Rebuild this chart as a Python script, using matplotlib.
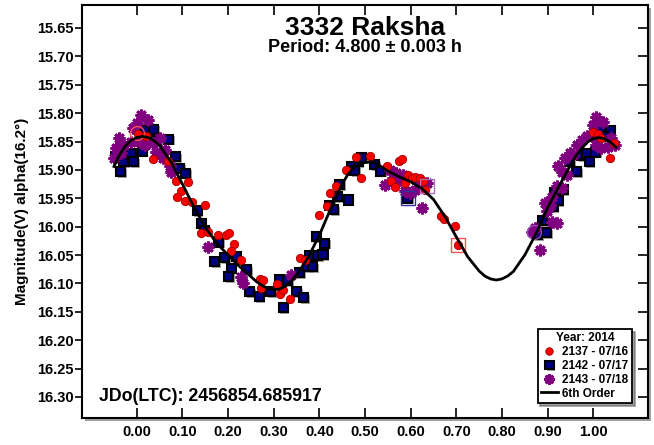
import matplotlib
matplotlib.use("Agg")
import matplotlib.pyplot as plt
import matplotlib.patheffects as pe
from matplotlib.patches import Rectangle

plt.rcParams['font.family'] = ['Liberation Sans', 'DejaVu Sans']
plt.rcParams['font.weight'] = 'bold'

# 2137 - 07/16 (red circles): phase, magnitude
red_phase = [0.002, 0.020, 0.036, 0.068, 0.085, 0.112, 0.097, 0.089, 0.105, 0.120,
             0.149, 0.141, 0.157, 0.178, 0.196, 0.202, 0.214, 0.207, 0.229, 0.269,
             0.276, 0.273, 0.307, 0.313, 0.320, 0.335, 0.357, 0.368, 0.400, 0.416,
             0.423, 0.437, 0.459, 0.481, 0.492, 0.512, 0.548, 0.574, 0.580, 0.558,
             0.566, 0.587, 0.595, 0.603, 0.610, 0.620, 0.627, 0.631, 0.666, 0.673,
             0.697, 0.703, 1.000, 1.011, 1.018, 1.037, 1.045]
red_mag = [15.836, 15.840, 15.880, 15.885, 15.919, 15.922, 15.938, 15.947, 15.955, 15.956,
           15.962, 16.011, 16.010, 16.014, 16.014, 16.012, 16.031, 16.043, 16.058, 16.092,
           16.094, 16.108, 16.101, 16.119, 16.112, 16.128, 16.056, 16.059, 15.979, 15.963,
           15.941, 15.929, 15.901, 15.877, 15.915, 15.875, 15.894, 15.885, 15.881, 15.920,
           15.930, 15.923, 15.909, 15.915, 15.912, 15.915, 15.920, 15.935, 15.981, 15.987,
           15.999, 16.032, 15.833, 15.836, 15.844, 15.879, 15.853]

# 2142 - 07/17 (navy squares)
sq_phase = [-0.047, -0.036, -0.029, -0.012, -0.007, 0.012, 0.017, 0.037, 0.043, 0.070,
            0.085, 0.094, 0.107, 0.132, 0.141, 0.148, 0.179, 0.170, 0.192, 0.218,
            0.207, 0.240, 0.201, 0.247, 0.268, 0.293, 0.312, 0.321, 0.331, 0.350,
            0.365, 0.357, 0.375, 0.386, 0.379, 0.396, 0.408, 0.412, 0.393, 0.423,
            0.432, 0.440, 0.445, 0.463, 0.470, 0.477, 0.485, 0.492, 0.521, 0.535,
            0.594, 0.879, 0.889, 0.898, 0.912, 0.916, 0.923, 0.934, 0.949, 0.963,
            0.975, 0.986, 0.991, 1.005, 1.015, 1.037, 1.022]
sq_mag = [15.877, 15.903, 15.886, 15.872, 15.885, 15.867, 15.830, 15.828, 15.848, 15.846,
          15.877, 15.897, 15.906, 15.972, 15.994, 16.006, 16.027, 16.062, 16.054, 16.053,
          16.073, 16.076, 16.088, 16.115, 16.123, 16.115, 16.093, 16.143, 16.095, 16.114,
          16.125, 16.081, 16.071, 16.070, 16.051, 16.051, 16.049, 16.029, 16.017, 15.962,
          15.970, 15.947, 15.926, 15.953, 15.894, 15.901, 15.885, 15.879, 15.891, 15.902,
          15.950, 16.014, 15.989, 16.011, 15.965, 15.940, 15.954, 15.935, 15.885, 15.903,
          15.875, 15.872, 15.885, 15.869, 15.827, 15.830, 15.841]

# 2143 - 07/18 (purple stars)
st_phase = [0.010, 0.024, 0.000, -0.009, -0.038, -0.045, -0.049, -0.027, -0.034, -0.012,
            0.006, 0.017, 0.035, 0.050, 0.042, 0.061, 0.057, 0.072, 0.075, 0.156,
            0.229, 0.233, 0.337, 0.543, 0.554, 0.561, 0.569, 0.576, 0.584, 0.587,
            0.598, 0.609, 0.616, 0.635, 0.624, 0.883, 0.865, 0.872, 0.909, 0.920,
            0.898, 0.894, 0.909, 0.920, 0.931, 0.923, 0.938, 0.949, 0.956, 0.964,
            0.975, 0.986, 0.997, 1.000, 1.007, 1.022, 1.007, 1.018, 1.033, 1.040,
            1.048, 0.942, 0.931, 0.906]
st_mag = [15.803, 15.812, 15.818, 15.827, 15.844, 15.862, 15.879, 15.856, 15.871, 15.850,
          15.850, 15.856, 15.853, 15.844, 15.868, 15.865, 15.879, 15.894, 15.903, 16.035,
          16.089, 16.099, 16.086, 15.926, 15.900, 15.915, 15.906, 15.917, 15.909, 15.938,
          15.941, 15.935, 15.923, 15.923, 15.967, 16.041, 16.009, 16.003, 15.991, 15.994,
          15.973, 15.959, 15.947, 15.929, 15.903, 15.894, 15.879, 15.871, 15.874, 15.856,
          15.847, 15.841, 15.841, 15.821, 15.806, 15.815, 15.856, 15.862, 15.859, 15.844,
          15.856, 15.909, 15.932, 15.962]

# 6th order fit
fit_phase = [-0.050, -0.0375, -0.025, -0.0125, 0.000, 0.0125, 0.025, 0.0375, 0.050, 0.075,
             0.100, 0.125, 0.150, 0.175, 0.200, 0.225, 0.250, 0.2625, 0.275, 0.2875,
             0.300, 0.3125, 0.325, 0.3375, 0.350, 0.375, 0.400, 0.425, 0.450, 0.4625,
             0.475, 0.4875, 0.500, 0.5125, 0.525, 0.5375, 0.550, 0.575, 0.600, 0.625,
             0.650, 0.675, 0.700, 0.725, 0.750, 0.7625, 0.775, 0.7875, 0.800, 0.8125,
             0.825, 0.850, 0.875, 0.900, 0.925, 0.950, 0.9625, 0.975, 0.9875, 1.000,
             1.0125, 1.025, 1.0375, 1.050]
fit_mag = [15.894, 15.873, 15.858, 15.848, 15.843, 15.841, 15.843, 15.848, 15.857, 15.886,
           15.925, 15.965, 16.001, 16.029, 16.050, 16.070, 16.088, 16.097, 16.104, 16.109,
           16.111, 16.110, 16.105, 16.097, 16.085, 16.055, 16.015, 15.968, 15.925, 15.908,
           15.897, 15.890, 15.887, 15.886, 15.889, 15.895, 15.902, 15.912, 15.921, 15.933,
           15.952, 15.982, 16.018, 16.053, 16.078, 16.087, 16.092, 16.094, 16.092, 16.087,
           16.079, 16.050, 16.012, 15.967, 15.929, 15.892, 15.875, 15.862, 15.851, 15.845,
           15.843, 15.845, 15.851, 15.860]

# highlighted points (hollow markers)
hl_phase = [0.000, 0.594, 0.635, 0.703, 0.870]
hl_mag = [15.835, 15.950, 15.929, 16.032, 16.010]
hl_marker = ['o', 's', 's', 's', 'o']
hl_color = ['#ff5050', '#3030a0', '#b070c0', '#ff5050', '#9050b0']

xticks = [0.0, 0.1, 0.2, 0.3, 0.4, 0.5, 0.6, 0.7, 0.8, 0.9, 1.0]
yticks = [15.65, 15.70, 15.75, 15.80, 15.85, 15.90, 15.95, 16.00, 16.05, 16.10,
          16.15, 16.20, 16.25, 16.30]

fig = plt.figure(figsize=(6.54, 4.45), dpi=100)
ax = fig.add_axes([0.1254, 0.0607, 0.8654, 0.9281])

# drop shadow of the plot box
fig.patches.append(Rectangle((0.1254 + 0.004, 0.0607 - 0.006), 0.8654, 0.9281,
                             transform=fig.transFigure, facecolor='#a0a0a0',
                             edgecolor='none', zorder=-1))

shadow = [pe.SimplePatchShadow(offset=(1.2, -1.2), shadow_rgbFace='#909090', alpha=0.8), pe.Normal()]

ax.plot(sq_phase, sq_mag, 's', ms=6.5, mfc='#000080', mec='black', mew=1.5,
        zorder=2, path_effects=shadow, label='2142 - 07/17')
ax.plot(st_phase, st_mag, ls='none', marker=(8, 2, 0), ms=8.5, mec='#800080', mew=2.0,
        zorder=3, label='2143 - 07/18')
ax.plot(red_phase, red_mag, 'o', ms=6, mfc='#ff0000', mec='#a00000', mew=0.6,
        zorder=4, label='2137 - 07/16')
for p, m, mk, c in zip(hl_phase, hl_mag, hl_marker, hl_color):
    ax.plot(p, m, mk, ms=10, mfc='none', mec=c, mew=1.0, zorder=4)
ax.plot(fit_phase, fit_mag, '-', color='black', lw=2, zorder=5, label='6th Order')

ax.set_xlim(-0.12, 1.12)
ax.set_ylim(16.337, 15.6095)
ax.set_xticks(xticks)
ax.set_xticklabels(['%.2f' % v for v in xticks])
ax.set_yticks(yticks)
ax.set_yticklabels(['%.2f' % v for v in yticks])

ax.tick_params(axis='y', which='both', left=True, right=True, labelsize=10.5, width=1.2)
ax.tick_params(axis='y', which='major', left=True, direction='out', length=5, pad=1)
ax.tick_params(axis='x', labelsize=10.5, top=True, direction='in', length=7, width=1.2, pad=5)
ax.yaxis.set_tick_params(which='major', right=True)
# right ticks point inward
for t in ax.yaxis.get_major_ticks():
    t.tick2line.set_marker(matplotlib.lines.TICKLEFT)
    t.tick2line.set_markersize(7)
for s in ax.spines.values():
    s.set_linewidth(1.5)

ax.set_ylabel('Magnitude(V) alpha(16.2°)', fontsize=11, fontweight='bold', labelpad=6)

ax.text(0.5, 0.944, '3332 Raksha', transform=ax.transAxes, ha='center', va='center',
        fontsize=19, fontweight='bold')
ax.text(0.5, 0.897, 'Period: 4.800 ± 0.003 h', transform=ax.transAxes, ha='center',
        va='center', fontsize=13, fontweight='bold')
ax.text(0.03, 0.053, 'JDo(LTC): 2456854.685917', transform=ax.transAxes, ha='left',
        va='center', fontsize=12.8, fontweight='bold')

h, l = ax.get_legend_handles_labels()
order = [2, 0, 1, 3]
leg = ax.legend([h[i] for i in order], [l[i] for i in order], title='Year: 2014',
                loc='lower right', bbox_to_anchor=(0.972, 0.036), borderaxespad=0,
                fontsize=8.5, title_fontsize=8.5, fancybox=False, shadow=True,
                framealpha=1, edgecolor='black', handlelength=1.4, handletextpad=0.4,
                labelspacing=0.15, borderpad=0.3, markerscale=0.9)
leg.get_frame().set_linewidth(1.3)
leg.get_title().set_fontweight('bold')
for t in leg.get_texts():
    t.set_fontweight('bold')

fig.savefig('out.png', dpi=100)
